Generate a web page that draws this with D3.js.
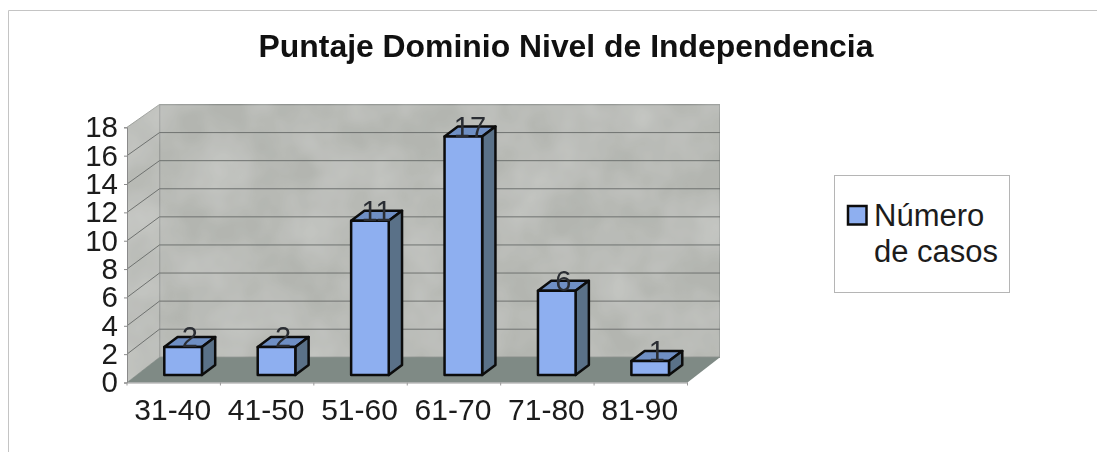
<!DOCTYPE html>
<html>
<head>
<meta charset="utf-8">
<script src="https://cdn.jsdelivr.net/npm/d3@7"></script>
<style>
html, body { margin: 0; padding: 0; background: #fff; }
svg { display: block; filter: blur(0.45px); }
text { font-family: "Liberation Sans", Arial, sans-serif; fill: #1c1c1c; }
</style>
</head>
<body>
<div id="chart"></div>
<script>
'use strict';

var categories = ['31-40', '41-50', '51-60', '61-70', '71-80', '81-90'];
var casos = [2, 2, 11, 17, 6, 1];
var yTicks = [0, 2, 4, 6, 8, 10, 12, 14, 16, 18];
var chartTitle = 'Puntaje Dominio Nivel de Independencia';
var legendLines = ['Número', 'de casos'];

var width = 1109, height = 452;

var svg = d3.select('#chart').append('svg')
	.attr('width', width)
	.attr('height', height);

// scan-like mottling for the walls
var noise = svg.append('defs').append('filter')
	.attr('id', 'mottle')
	.attr('x', 0).attr('y', 0).attr('width', 1).attr('height', 1);
noise.append('feTurbulence')
	.attr('type', 'fractalNoise')
	.attr('baseFrequency', 0.02)
	.attr('numOctaves', 3)
	.attr('seed', 4)
	.attr('result', 'n');
noise.append('feColorMatrix')
	.attr('in', 'n')
	.attr('type', 'matrix')
	.attr('values', '0 0 0 0 1  0 0 0 0 1  0 0 0 0 1  0.3 0 0 0 -0.08')
	.attr('result', 'spots');
noise.append('feComposite')
	.attr('in', 'spots')
	.attr('in2', 'SourceGraphic')
	.attr('operator', 'in')
	.attr('result', 'clipped');
noise.append('feMerge').selectAll('feMergeNode')
	.data(['SourceGraphic', 'clipped'])
	.enter().append('feMergeNode')
	.attr('in', function (d) { return d; });

var x = d3.scaleBand().domain(categories).range([127, 687.5]);
// front edge of the box, back wall, and the plane the bars stand in
var y = d3.scaleLinear().domain([0, 18]).range([382.5, 127.3]);
var yBack = d3.scaleLinear().domain([0, 18]).range([357.3, 104.5]);
var yBar = d3.scaleLinear().domain([0, 18]).range([375, 122.6]);

var backDx = 32.5;
var barDx = 13.3, barDy = -10, barOffset = 37.3, barW = 37.6;

function poly(points, fill, stroke, sw) {
	return svg.append('polygon')
		.attr('points', points.join(' '))
		.attr('fill', fill)
		.attr('stroke', stroke)
		.attr('stroke-width', sw)
		.attr('stroke-linejoin', 'round');
}

// outer frame
svg.append('path')
	.attr('d', 'M8.5,452V10.5H1097')
	.attr('fill', 'none')
	.attr('stroke', '#c4c4c4');

svg.append('text')
	.attr('x', 566)
	.attr('y', 57)
	.attr('text-anchor', 'middle')
	.attr('font-size', 31.9)
	.attr('font-weight', 'bold')
	.style('fill', '#111')
	.text(chartTitle);

var x0 = x.range()[0], x1 = x.range()[1];
var xb0 = x0 + backDx, xb1 = x1 + backDx;

// walls and floor
poly([[xb0, yBack(18)], [xb1, yBack(18)], [xb1, yBack(0)], [xb0, yBack(0)]], '#b3b5b0', '#8c908c', 1.5)
	.attr('filter', 'url(#mottle)');
poly([[x0, y(18)], [xb0, yBack(18)], [xb0, yBack(0)], [x0, y(0)]], '#b8bab5', '#979a96', 1)
	.attr('filter', 'url(#mottle)');
poly([[x0, y(0)], [xb0, yBack(0)], [xb1, yBack(0)], [x1, y(0)]], '#7f8a85', 'none', 0);

// gridlines across both walls
svg.append('g').selectAll('path')
	.data(yTicks.filter(function (d) { return d > 0 && d < 18; }))
	.enter().append('path')
	.attr('d', function (d) {
		return d3.line()([[x0, y(d)], [xb0, yBack(d)], [xb1, yBack(d)]]);
	})
	.attr('fill', 'none')
	.attr('stroke', '#6f7270')
	.attr('stroke-width', 1);

// axis lines and tick marks
var yAxis = d3.axisLeft(y).tickValues(yTicks).tickSize(3).tickPadding(6);
var xAxis = d3.axisBottom(x).tickSize(0).tickPadding(16);

var gy = svg.append('g').attr('transform', 'translate(' + x0 + ',0)').call(yAxis);
gy.select('.domain').attr('stroke', '#8a8a8a');
gy.selectAll('.tick line').attr('stroke', '#8a8a8a');
gy.selectAll('text')
	.attr('font-size', 29.5)
	.attr('font-family', null);

var gx = svg.append('g').attr('transform', 'translate(0,' + y(0) + ')').call(xAxis);
gx.select('.domain').attr('stroke', '#9a9a9a');
gx.selectAll('text')
	.attr('font-size', 30)
	.attr('font-family', null)
	.attr('dx', -1);
gx.selectAll('.edge')
	.data(categories.concat(['end']))
	.enter().append('line')
	.attr('x1', function (d, i) { return x0 + i * x.bandwidth(); })
	.attr('x2', function (d, i) { return x0 + i * x.bandwidth(); })
	.attr('y1', 0)
	.attr('y2', 3)
	.attr('stroke', '#9a9a9a');

// bars
var lineCol = '#0c0c0c';

categories.forEach(function (c, i) {
	var l = x(c) + barOffset;
	var r = l + barW;
	var b = yBar(0), t = yBar(casos[i]);
	poly([[l, t], [l + barDx, t + barDy], [r + barDx, t + barDy], [r, t]], '#6f8fc4', lineCol, 2.5);
	poly([[r, t], [r + barDx, t + barDy], [r + barDx, b + barDy], [r, b]], '#5a7188', lineCol, 2.5);
	poly([[l, t], [r, t], [r, b], [l, b]], '#8eaff0', lineCol, 2.5);
});

// value labels sit on the top face
svg.append('g').selectAll('text')
	.data(casos)
	.enter().append('text')
	.attr('x', function (d, i) { return x(categories[i]) + barOffset + barW / 2 + barDx / 2; })
	.attr('y', function (d) { return yBar(d); })
	.attr('text-anchor', 'middle')
	.attr('font-size', 29)
	.style('fill', '#2a2d33')
	.text(function (d) { return d; });

// legend
var legend = svg.append('g').attr('transform', 'translate(834,175.5)');
legend.append('rect')
	.attr('x', 0.5).attr('width', 175).attr('height', 117)
	.attr('fill', '#fff').attr('stroke', '#b5b5b5');
legend.append('rect')
	.attr('x', 14).attr('y', 30.5).attr('width', 18.5).attr('height', 18.5)
	.attr('fill', '#8eaff0').attr('stroke', lineCol).attr('stroke-width', 2.5);
legend.selectAll('.lbl')
	.data(legendLines)
	.enter().append('text')
	.attr('class', 'lbl')
	.attr('x', 40)
	.attr('y', function (d, i) { return 50 + i * 36; })
	.attr('font-size', 31)
	.text(function (d) { return d; });
</script>
</body>
</html>
